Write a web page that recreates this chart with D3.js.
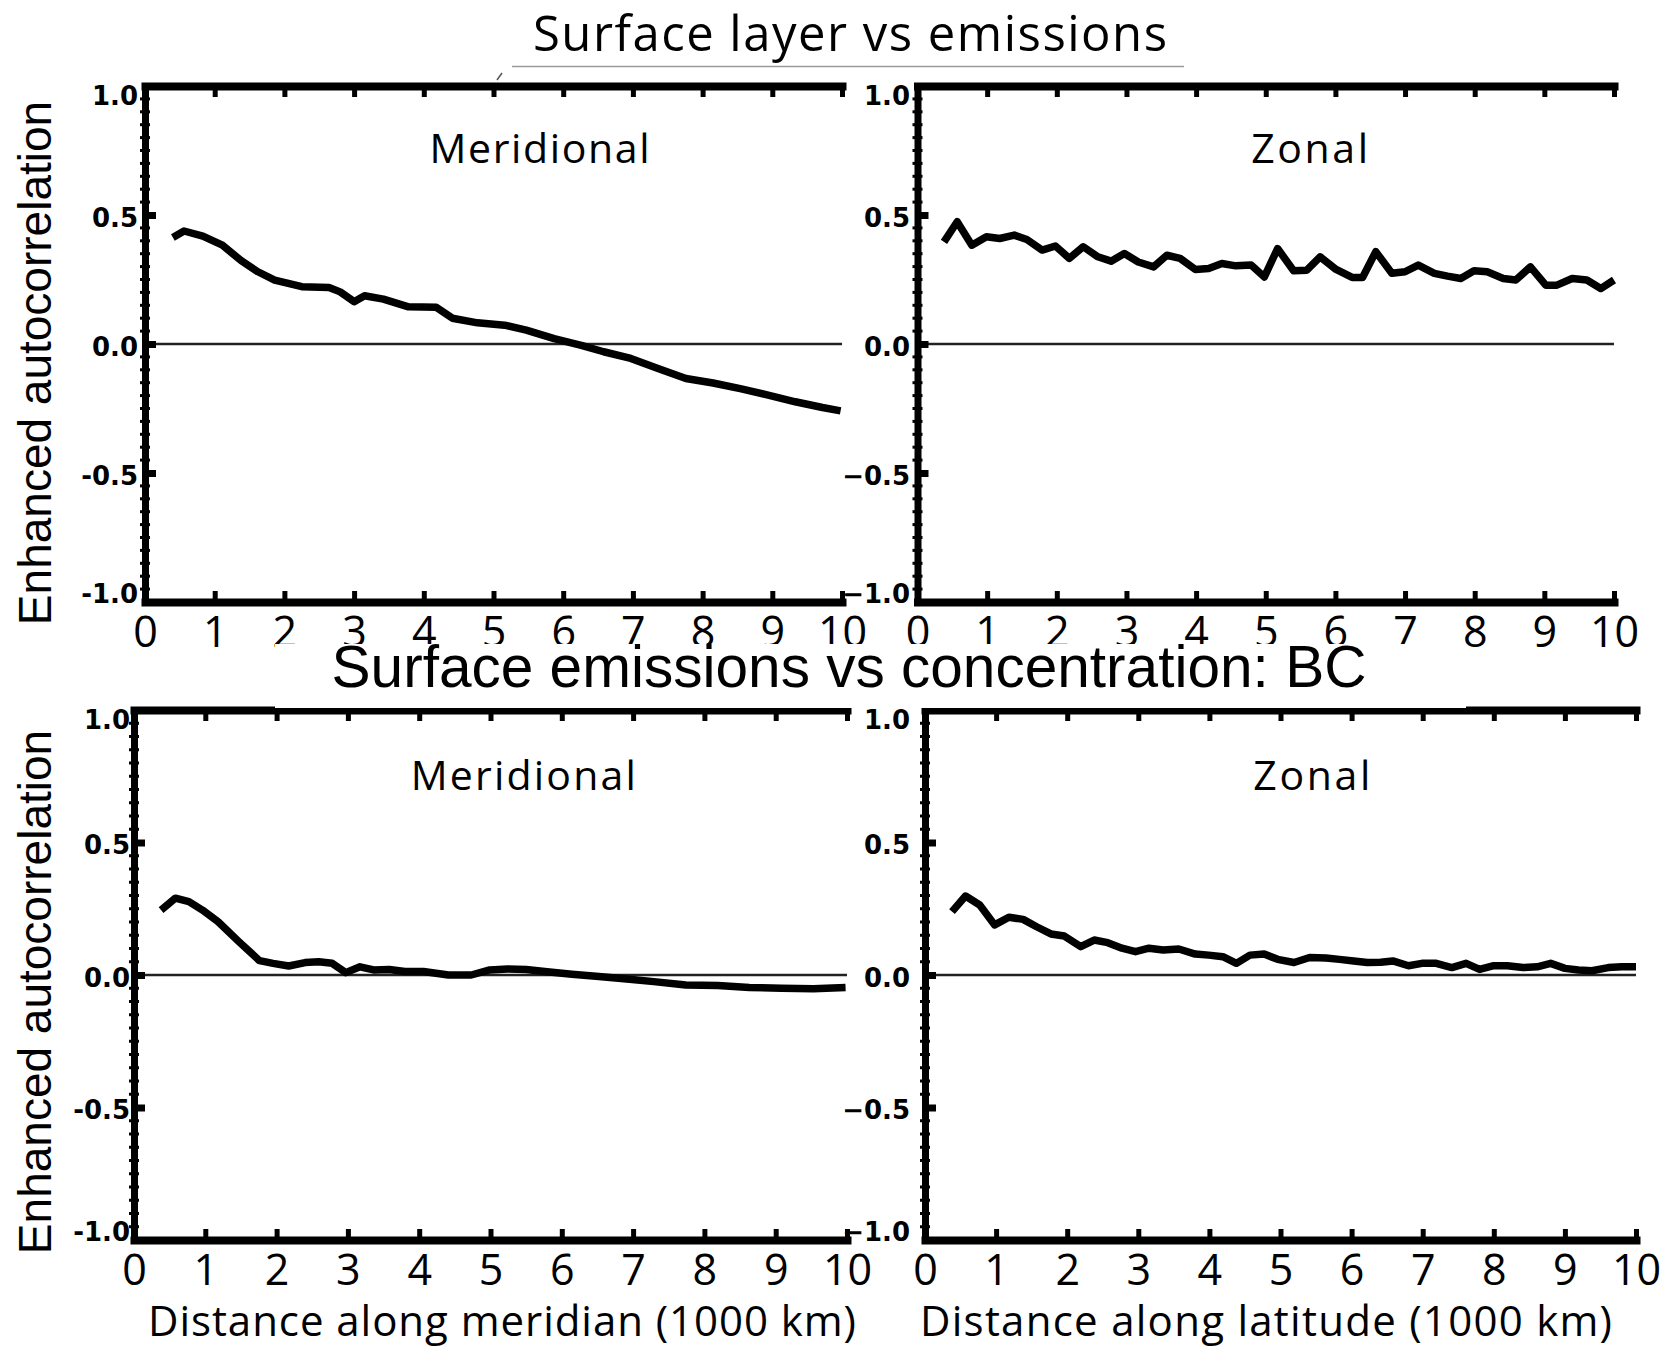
<!DOCTYPE html>
<html>
<head>
<meta charset="utf-8">
<script src="https://cdn.jsdelivr.net/npm/d3@7"></script>
<style>
  html, body { margin: 0; padding: 0; background: #fff; }
  svg { display: block; }
</style>
</head>
<body>
<div id="chart"></div>
<script>
// Enhanced autocorrelation against distance (1000 km), four panels
const xTicks = [0, 1, 2, 3, 4, 5, 6, 7, 8, 9, 10]
const yTicks = [-1, -0.5, 0, 0.5, 1]

const rowTitles = ["Surface layer vs emissions", "Surface emissions vs concentration: BC"]
const yTitle = "Enhanced autocorrelation"
const xTitles = ["Distance along meridian (1000 km)", "Distance along latitude (1000 km)"]

// surface layer vs emissions
const layerMeridionalDist = [0.40, 0.56, 0.83, 1.11, 1.38, 1.62, 1.86, 2.25, 2.64, 2.80, 3.00, 3.15, 3.42, 3.78, 4.18, 4.41, 4.77, 5.16, 5.47, 5.87, 6.26, 6.58, 6.97, 7.36, 7.76, 8.15, 8.54, 8.94, 9.33, 9.72, 9.98]
const layerMeridionalCorr = [0.413, 0.438, 0.418, 0.383, 0.323, 0.28, 0.248, 0.222, 0.219, 0.202, 0.164, 0.187, 0.174, 0.144, 0.142, 0.10, 0.082, 0.073, 0.054, 0.021, -0.005, -0.03, -0.056, -0.095, -0.134, -0.151, -0.173, -0.198, -0.224, -0.246, -0.259]

const layerZonalDist = [0.38, 0.57, 0.78, 0.99, 1.18, 1.39, 1.57, 1.79, 1.98, 2.18, 2.38, 2.59, 2.78, 2.97, 3.17, 3.39, 3.58, 3.77, 3.99, 4.18, 4.37, 4.57, 4.79, 4.98, 5.17, 5.40, 5.59, 5.78, 6.01, 6.24, 6.39, 6.58, 6.81, 7.00, 7.19, 7.42, 7.61, 7.80, 7.99, 8.18, 8.41, 8.59, 8.80, 9.02, 9.18, 9.40, 9.61, 9.81, 10.0]
const layerZonalCorr = [0.396, 0.474, 0.383, 0.416, 0.409, 0.422, 0.405, 0.364, 0.38, 0.332, 0.377, 0.338, 0.321, 0.351, 0.318, 0.299, 0.344, 0.332, 0.289, 0.293, 0.312, 0.303, 0.306, 0.26, 0.37, 0.284, 0.286, 0.338, 0.289, 0.258, 0.258, 0.358, 0.274, 0.28, 0.306, 0.274, 0.263, 0.254, 0.284, 0.28, 0.254, 0.248, 0.299, 0.228, 0.228, 0.254, 0.248, 0.215, 0.248]

// surface emissions vs concentration (BC)
const bcMeridionalDist = [0.38, 0.58, 0.77, 0.96, 1.18, 1.47, 1.76, 1.95, 2.17, 2.40, 2.59, 2.78, 2.97, 3.17, 3.36, 3.58, 3.80, 4.06, 4.41, 4.73, 4.99, 5.24, 5.50, 5.76, 6.14, 6.52, 6.91, 7.29, 7.74, 8.19, 8.63, 9.08, 9.53, 9.98]
const bcMeridionalCorr = [0.245, 0.29, 0.277, 0.245, 0.201, 0.126, 0.054, 0.044, 0.034, 0.047, 0.05, 0.044, 0.009, 0.031, 0.019, 0.021, 0.013, 0.013, 0.0, 0.0, 0.019, 0.023, 0.021, 0.013, 0.003, -0.006, -0.015, -0.025, -0.038, -0.040, -0.047, -0.05, -0.052, -0.047]

const bcZonalDist = [0.38, 0.57, 0.77, 0.98, 1.18, 1.38, 1.57, 1.77, 1.96, 2.19, 2.38, 2.57, 2.77, 2.96, 3.15, 3.35, 3.57, 3.80, 3.99, 4.19, 4.38, 4.57, 4.77, 4.96, 5.19, 5.41, 5.64, 5.83, 6.03, 6.22, 6.41, 6.58, 6.80, 6.99, 7.19, 7.41, 7.61, 7.80, 8.00, 8.19, 8.41, 8.61, 8.80, 9.00, 9.19, 9.38, 9.61, 9.80, 10.0]
const bcZonalCorr = [0.239, 0.298, 0.264, 0.189, 0.218, 0.21, 0.182, 0.155, 0.147, 0.107, 0.132, 0.122, 0.101, 0.088, 0.101, 0.094, 0.098, 0.079, 0.075, 0.069, 0.044, 0.075, 0.079, 0.059, 0.047, 0.066, 0.064, 0.059, 0.053, 0.047, 0.048, 0.053, 0.035, 0.044, 0.044, 0.028, 0.044, 0.021, 0.035, 0.035, 0.028, 0.031, 0.044, 0.025, 0.019, 0.016, 0.028, 0.031, 0.031]

const width = 1661
const height = 1348

const panels = [
    { name: "Meridional", dist: layerMeridionalDist, corr: layerMeridionalCorr, left: 145, right: 842, top: 86, bottom: 602, gap: 7, minus: "-", nameAt: 5.66, nameLen: 220, nameDy: 77 },
    { name: "Zonal", dist: layerZonalDist, corr: layerZonalCorr, left: 917.5, right: 1614, top: 86, bottom: 602, gap: 7.5, minus: "\u2212", nameAt: 5.63, nameLen: 117, nameDy: 77 },
    { name: "Meridional", dist: bcMeridionalDist, corr: bcMeridionalCorr, left: 134, right: 847, top: 710, bottom: 1240, gap: 4, minus: "-", nameAt: 5.46, nameLen: 225, nameDy: 80 },
    { name: "Zonal", dist: bcZonalDist, corr: bcZonalCorr, left: 925, right: 1636, top: 710, bottom: 1240, gap: 15, minus: "\u2212", nameAt: 5.44, nameLen: 117, nameDy: 80 }
]

const svg = d3.select("#chart")
    .append("svg")
    .attr("width", width)
    .attr("height", height)
    .style("background", "#fff")

const digitFont = "'Open Sans', 'Noto Sans', sans-serif"

function drawPanel(p) {
    const x = d3.scaleLinear().domain([0, 10]).range([p.left, p.right])
    const y = d3.scaleLinear().domain([-1, 1]).range([p.bottom, p.top])
    const g = svg.append("g")

    // zero reference line
    g.append("line")
        .attr("x1", p.left).attr("x2", p.right)
        .attr("y1", y(0)).attr("y2", y(0))
        .attr("stroke", "#222")
        .attr("stroke-width", 2.4)

    const line = d3.line()
        .x(d => x(d[0]))
        .y(d => y(d[1]))

    g.append("path")
        .datum(d3.zip(p.dist, p.corr))
        .attr("d", line)
        .attr("fill", "none")
        .attr("stroke", "#000")
        .attr("stroke-width", 7.5)
        .attr("stroke-linejoin", "round")

    // bottom axis, ticks point inward
    const bottomAxis = g.append("g")
        .attr("transform", `translate(0,${p.bottom})`)
        .call(d3.axisBottom(x).tickValues(xTicks).tickSize(-11).tickSizeOuter(0).tickFormat(d3.format("d")))
    bottomAxis.select(".domain").attr("stroke-width", 8).attr("stroke-linecap", "square")
    bottomAxis.selectAll(".tick line").attr("stroke-width", 5)
    bottomAxis.selectAll(".tick text")
        .attr("y", 45)
        .attr("dy", null)
        .attr("font-family", digitFont)
        .attr("font-size", 43)
        .attr("fill", "#000")

    // top axis without labels
    const topAxis = g.append("g")
        .attr("transform", `translate(0,${p.top})`)
        .call(d3.axisTop(x).tickValues(xTicks.slice(1)).tickSize(-11).tickSizeOuter(0).tickFormat(""))
    topAxis.select(".domain").attr("stroke-width", 8).attr("stroke-linecap", "square")
    topAxis.selectAll(".tick line").attr("stroke-width", 5)

    // left axis
    const leftAxis = g.append("g")
        .attr("transform", `translate(${p.left},0)`)
        .call(d3.axisLeft(y).tickValues(yTicks).tickSize(-11).tickSizeOuter(0).tickPadding(p.gap)
            .tickFormat(d => (d < 0 ? p.minus : "") + Math.abs(d).toFixed(1)))
    leftAxis.select(".domain").attr("stroke-width", 7).attr("stroke-linecap", "square")
    leftAxis.selectAll(".tick line").attr("stroke-width", 7)
    leftAxis.selectAll(".tick text")
        .attr("y", d => d === 1 ? 10 : d === -1 ? -8 : 3)
        .attr("font-family", "'DejaVu Sans', sans-serif")
        .attr("font-weight", "bold")
        .attr("font-size", 26)
        .attr("fill", "#000")

    // minor ticks every 0.05
    g.append("g")
        .selectAll("line")
        .data(y.ticks(40).filter(v => !yTicks.includes(v)))
        .enter()
        .append("line")
        .attr("x1", p.left - 5)
        .attr("x2", p.left + 5)
        .attr("y1", d => y(d))
        .attr("y2", d => y(d))
        .attr("stroke", "#000")
        .attr("stroke-width", 3)

    g.append("text")
        .attr("x", x(p.nameAt))
        .attr("y", p.top + p.nameDy)
        .attr("text-anchor", "middle")
        .attr("font-family", digitFont)
        .attr("font-size", 41)
        .attr("textLength", p.nameLen)
        .attr("lengthAdjust", "spacing")
        .text(p.name)
}

panels.forEach(drawPanel)

// y-axis titles, one per row
const yTitleRows = [363, 992]
yTitleRows.forEach(cy => {
    svg.append("text")
        .attr("transform", `translate(51,${cy}) rotate(-90)`)
        .attr("text-anchor", "middle")
        .attr("font-family", "'Liberation Sans', Arial, sans-serif")
        .attr("font-size", 46)
        .attr("fill", "#000")
        .text(yTitle)
})

// x-axis titles under the bottom row
const xTitlePos = [[502, 708], [1266, 692]]
xTitles.forEach((t, i) => {
    svg.append("text")
        .attr("x", xTitlePos[i][0])
        .attr("y", 1336)
        .attr("text-anchor", "middle")
        .attr("font-family", digitFont)
        .attr("font-size", 42)
        .attr("textLength", xTitlePos[i][1])
        .attr("lengthAdjust", "spacing")
        .text(t)
})

// first row heading with its rule
svg.append("text")
    .attr("x", 850)
    .attr("y", 51)
    .attr("text-anchor", "middle")
    .attr("font-family", digitFont)
    .attr("font-size", 49)
    .attr("textLength", 634)
    .attr("lengthAdjust", "spacing")
    .text(rowTitles[0])

svg.append("line")
    .attr("x1", 512).attr("x2", 1184)
    .attr("y1", 66.5).attr("y2", 66.5)
    .attr("stroke", "#9a9a9a")
    .attr("stroke-width", 1.6)

svg.append("line")
    .attr("x1", 497).attr("y1", 80)
    .attr("x2", 502).attr("y2", 73)
    .attr("stroke", "#555")
    .attr("stroke-width", 1.5)

// second row heading sits on a white plate
svg.append("rect")
    .attr("x", 275)
    .attr("y", 644)
    .attr("width", 1466 - 275)
    .attr("height", 708 - 644)
    .attr("fill", "#fff")

svg.append("text")
    .attr("x", 849)
    .attr("y", 687)
    .attr("text-anchor", "middle")
    .attr("font-family", "'Liberation Sans', Arial, sans-serif")
    .attr("font-size", 58.5)
    .attr("textLength", 1035)
    .attr("lengthAdjust", "spacingAndGlyphs")
    .text(rowTitles[1])
</script>
</body>
</html>
